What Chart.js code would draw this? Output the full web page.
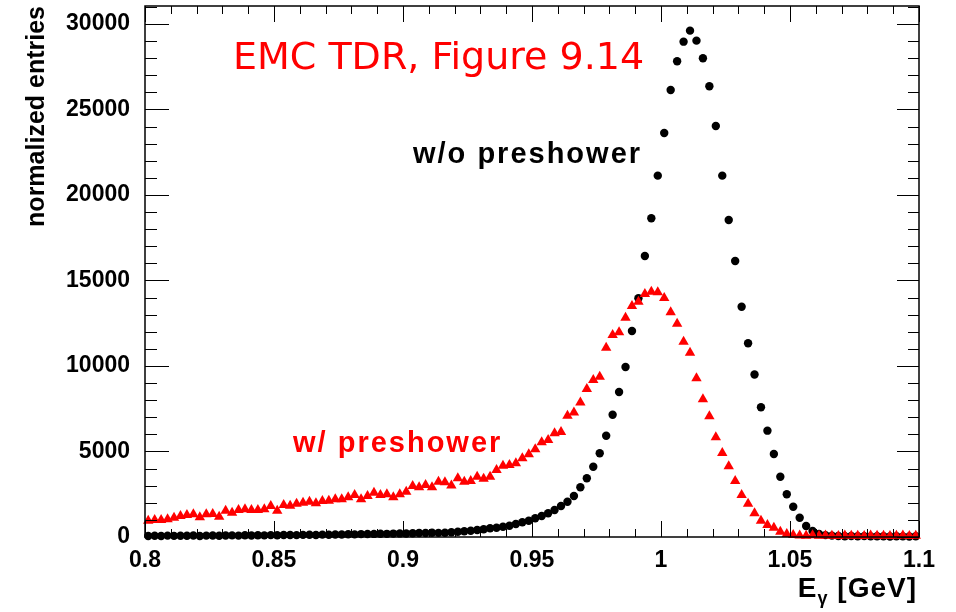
<!DOCTYPE html>
<html>
<head>
<meta charset="utf-8">
<script src="https://cdn.jsdelivr.net/npm/chart.js@4/dist/chart.umd.min.js"></script>
<style>
  html, body { margin: 0; padding: 0; background: #fff; }
  #wrap { width: 956px; height: 612px; }
</style>
</head>
<body>
<div id="wrap"><canvas id="eGamma"></canvas></div>
<script>
// histogram binning (0.8 - 1.1 GeV, 120 bins)
var binLow = 0.8;
var binWidth = 0.0025;
var nBins = 120;

var withoutPreshower = [
  60, 70, 55, 80, 65, 75, 70, 85, 60, 80,
  90, 75, 85, 95, 80, 100, 90, 105, 95, 110,
  100, 115, 120, 110, 125, 130, 120, 140, 135, 150,
  145, 160, 155, 170, 175, 180, 190, 185, 200, 210,
  205, 220, 230, 235, 245, 240, 251, 275, 310, 333,
  368, 409, 450, 509, 544, 602, 661, 760, 860, 953,
  1094, 1228, 1386, 1579, 1813, 2064, 2398, 2906, 3433, 4111,
  4895, 5924, 7152, 8480, 9942, 12047, 13959, 16433, 18637, 21130,
  23626, 26140, 27817, 28965, 29610, 29025, 27993, 26357, 24035, 21130,
  18538, 16140, 13468, 11327, 9500, 7585, 6218, 4854, 3526, 2497,
  1772, 1129, 643, 351, 175, 110, 80, 60, 45, 55,
  40, 50, 35, 45, 40, 30, 40, 35, 30, 40
];

var withPreshower = [
  955, 994, 994, 1033, 1131, 1228, 1287, 1326, 1150, 1326,
  1345, 1189, 1540, 1423, 1579, 1618, 1579, 1579, 1618, 1813,
  1540, 1871, 1832, 1940, 2008, 2066, 1969, 2105, 2125, 2203,
  2203, 2320, 2456, 2203, 2398, 2593, 2456, 2495, 2320, 2495,
  2651, 2983, 2905, 3041, 2905, 3236, 3200, 3010, 3433, 3234,
  3275, 3526, 3409, 3526, 3918, 4170, 4211, 4310, 4602, 4836,
  5129, 5538, 5673, 6064, 6140, 7085, 7280, 7865, 8655, 9181,
  9374, 11070, 11813, 11971, 12825, 13509, 13760, 14211, 14345, 14310,
  13977, 13140, 12474, 11421, 10778, 9281, 8053, 7055, 5840, 4910,
  4140, 3275, 2456, 1940, 1386, 950, 702, 544, 310, 175,
  110, 90, 80, 100, 70, 90, 80, 60, 90, 70,
  80, 60, 90, 70, 80, 60, 70, 90, 60, 80
];

var xTickLabels = ['0.8', '0.85', '0.9', '0.95', '1', '1.05', '1.1'];
var yTickLabels = ['0', '5000', '10000', '15000', '20000', '25000', '30000'];
var yMinorStep = 1000;

function toPoints(values) {
  var pts = [];
  for (var i = 0; i < nBins; i++) {
    pts.push({ x: binLow + (i + 0.5) * binWidth, y: values[i] });
  }
  return pts;
}

var tickFont = { family: 'Liberation Sans', size: 23, weight: 'bold' };

// ROOT style frame: box + inward ticks on all four sides, plus the text labels
var rootFrame = {
  id: 'rootFrame',
  afterDraw: function (chart) {
    var ctx = chart.ctx;
    var a = chart.chartArea;
    var xs = chart.scales.x, ys = chart.scales.y;
    ctx.save();
    ctx.strokeStyle = '#000';
    ctx.lineWidth = 1;
    ctx.beginPath();
    xs.ticks.forEach(function (t) {
      var px = Math.round(xs.getPixelForValue(t.value)) + 0.5;
      var major = Math.round(t.value * 100) % 5 === 0;
      var len = major ? 16 : 8;
      ctx.moveTo(px, a.bottom); ctx.lineTo(px, a.bottom - len);
      ctx.moveTo(px, a.top); ctx.lineTo(px, a.top + len);
    });
    ys.ticks.forEach(function (t) {
      var py = Math.round(ys.getPixelForValue(t.value)) + 0.5;
      var major = t.value % 5000 === 0;
      ctx.moveTo(a.left, py); ctx.lineTo(a.left + (major ? 24 : 12), py);
      ctx.moveTo(a.right, py); ctx.lineTo(a.right - (major ? 22 : 11), py);
    });
    ctx.stroke();
    ctx.lineWidth = 1.5;
    ctx.strokeRect(a.left, a.top, a.right - a.left, a.bottom - a.top);

    ctx.textBaseline = 'alphabetic';
    ctx.textAlign = 'left';
    ctx.fillStyle = '#ff0000';
    ctx.font = '38px "DejaVu Sans"';
    ctx.fillText('EMC TDR, Figure 9.14', 233, 69);

    ctx.letterSpacing = '2px';
    ctx.font = 'bold 29px "Liberation Sans"';
    ctx.fillStyle = '#000';
    ctx.fillText('w/o preshower', 413, 163);
    ctx.fillStyle = '#ff0000';
    ctx.fillText('w/ preshower', 293, 452);

    // x axis title: E_gamma [GeV], right aligned at the frame edge
    ctx.letterSpacing = '1px';
    ctx.fillStyle = '#000';
    var big = 'bold 28px "Liberation Sans"', small = 'bold 18px "Liberation Sans"';
    ctx.font = big;
    var wE = ctx.measureText('E').width, wRest = ctx.measureText(' [GeV]').width;
    ctx.font = small;
    var wG = ctx.measureText('\u03b3').width;
    var x0 = a.right - 2 - (wE + wG + wRest);
    ctx.font = big;
    ctx.fillText('E', x0, 597);
    ctx.font = small;
    ctx.fillText('\u03b3', x0 + wE, 604);
    ctx.font = big;
    ctx.fillText(' [GeV]', x0 + wE + wG, 597);
    ctx.restore();
  }
};

var ctx = document.getElementById('eGamma');
var chart = new Chart(ctx, {
  type: 'scatter',
  plugins: [rootFrame],
  data: {
    datasets: [
      {
        label: 'w/ preshower',
        data: toPoints(withPreshower),
        pointStyle: 'triangle',
        pointRadius: 6,
        backgroundColor: '#ff0000',
        borderColor: '#ff0000',
        borderWidth: 0,
        order: 0,
        clip: false,
      },
      {
        label: 'w/o preshower',
        data: toPoints(withoutPreshower),
        pointStyle: 'circle',
        pointRadius: 4.2,
        backgroundColor: '#000',
        borderColor: '#000',
        borderWidth: 0,
        order: 1,
        clip: false,
      },
    ]
  },
  options: {
    responsive: true,
    maintainAspectRatio: false,
    animation: false,
    events: [],
    layout: { padding: { left: 0, top: 6, right: 37, bottom: 0 } },
    plugins: {
      legend: { display: false },
      tooltip: { enabled: false },
    },
    scales: {
      x: {
        type: 'linear',
        min: 0.8,
        max: 1.1,
        grid: { display: false },
        border: { display: false },
        afterFit: function (s) { s.height = 75; s.paddingLeft = 0; s.paddingRight = 0; },
        ticks: {
          stepSize: 0.01,
          autoSkip: false,
          maxRotation: 0,
          padding: 2,
          color: '#000',
          font: tickFont,
          callback: function (v) {
            var k = Math.round((v - 0.8) * 100);
            return k % 5 === 0 ? xTickLabels[k / 5] : '';
          }
        }
      },
      y: {
        type: 'linear',
        min: 0,
        max: 31050,
        grid: { display: false },
        border: { display: false },
        afterBuildTicks: function (s) {
          var t = [];
          for (var v = 0; v <= s.max; v += yMinorStep) t.push({ value: v });
          s.ticks = t;
        },
        afterFit: function (s) { s.width = 145; s.paddingTop = 0; s.paddingBottom = 0; },
        title: {
          display: true,
          text: 'normalized entries',
          align: 'end',
          color: '#000',
          padding: { top: 22, bottom: 0 },
          font: { family: 'Liberation Sans', size: 25, weight: 'bold' },
        },
        ticks: {
          autoSkip: false,
          padding: 7,
          color: '#000',
          font: tickFont,
          callback: function (v) {
            return v % 5000 === 0 ? yTickLabels[v / 5000] : '';
          }
        }
      }
    }
  }
});
</script>
</body>
</html>
